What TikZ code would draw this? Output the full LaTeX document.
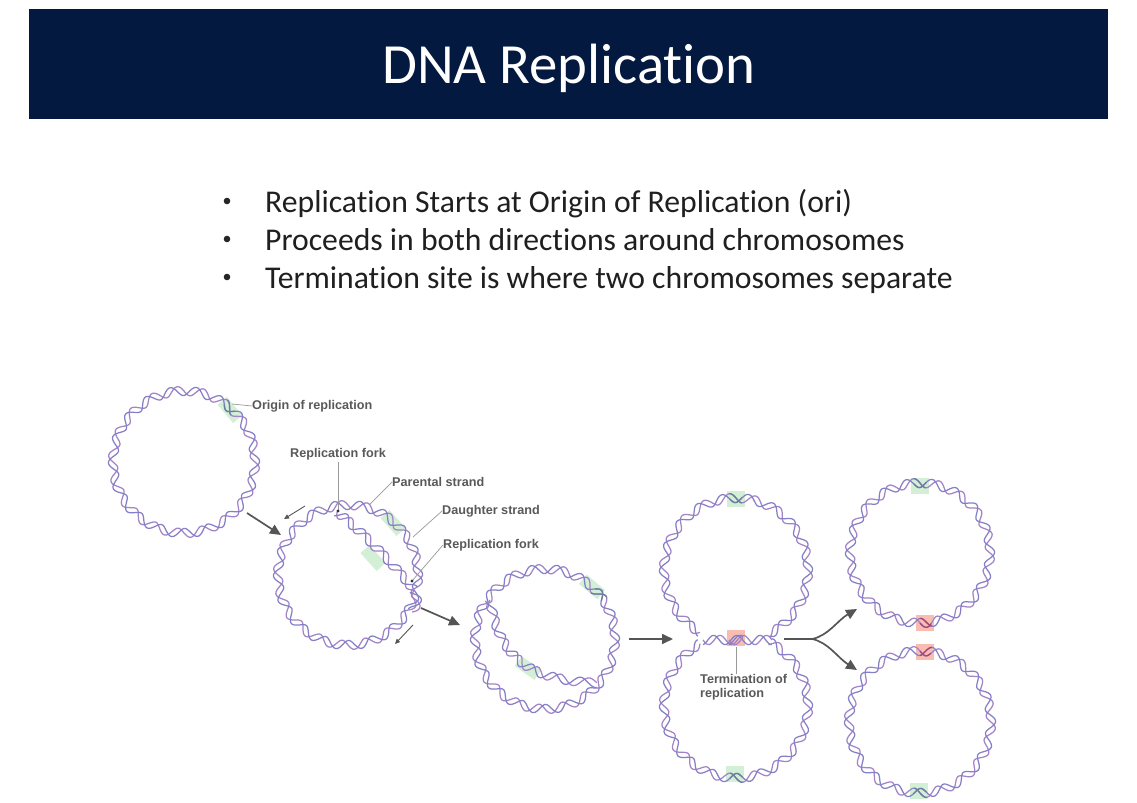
\documentclass[tikz,border=0pt]{standalone}
\usepackage{fontspec}
\setmainfont{Carlito}[Ligatures=NoCommon]
\newfontfamily\labelfont{Liberation Sans}
\usetikzlibrary{arrows.meta}
\definecolor{navy}{HTML}{03193F}
\definecolor{strandp}{HTML}{A384C6}
\definecolor{strandb}{HTML}{8480C8}
\definecolor{patchg}{HTML}{D3EFD5}
\definecolor{patchr}{HTML}{F8BDB0}
\definecolor{darkg}{HTML}{6A7F9E}
\definecolor{darkr}{HTML}{A8457A}
\definecolor{arrowgray}{HTML}{555555}
\tikzset{
  strandp/.style={draw=strandp,line width=1.25pt,line join=round},
  strandb/.style={draw=strandb,line width=1.25pt,line join=round},
  darkstrand/.style={draw=darkg,line width=1.3pt},
  redstrand/.style={draw=darkr,line width=1.3pt},
  flow/.style={draw=arrowgray,line width=1.7pt,-{Triangle[length=11bp,width=10bp]}},
  flowbare/.style={draw=arrowgray,line width=1.7pt},
  mini/.style={draw=arrowgray,line width=.9pt,-{Triangle[length=5bp,width=4.5bp]}},
  leader/.style={draw=black!40,line width=.7pt},
  tag/.style={font=\labelfont\fontsize{12.7}{14.5}\selectfont\bfseries,text=black!65,inner sep=0pt,anchor=west},
  bodytext/.style={font=\fontsize{31.8}{36}\selectfont,text=black!88,inner sep=0pt,anchor=base west},
  patch/.style={fill=patchg,draw=none},
  patchred/.style={fill=patchr,draw=none}
}
% helix on a circular arc: cx cy R a0 a1 samples style-a style-b
\newcommand{\helixarc}[8]{%
  \draw[#7] plot[smooth,samples=#6,domain=#4:#5,variable=\t]
    ({#1+(#3+4.6*sin(18*\t))*cos(\t)},{#2+(#3+4.6*sin(18*\t))*sin(\t)});
  \draw[#8] plot[smooth,samples=#6,domain=#4:#5,variable=\t]
    ({#1+(#3+4.6*sin(18*\t+100))*cos(\t)},{#2+(#3+4.6*sin(18*\t+100))*sin(\t)});
}
% helix along a cubic: x0 y0 x1 y1 x2 y2 x3 y3 turns
\newcommand{\helixbez}[9]{%
  \begin{scope}[declare function={
    bx(\t)=(1-\t)*(1-\t)*(1-\t)*#1+3*(1-\t)*(1-\t)*\t*#3+3*(1-\t)*\t*\t*#5+\t*\t*\t*#7;
    by(\t)=(1-\t)*(1-\t)*(1-\t)*#2+3*(1-\t)*(1-\t)*\t*#4+3*(1-\t)*\t*\t*#6+\t*\t*\t*#8;
    dx(\t)=3*(1-\t)*(1-\t)*(#3-#1)+6*(1-\t)*\t*(#5-#3)+3*\t*\t*(#7-#5);
    dy(\t)=3*(1-\t)*(1-\t)*(#4-#2)+6*(1-\t)*\t*(#6-#4)+3*\t*\t*(#8-#6);
    nl(\t)=veclen(dx(\t),dy(\t));
    }]
  \draw[strandp] plot[smooth,samples=120,domain=0:1,variable=\t]
    ({bx(\t)-4.6*sin(360*#9*\t)*dy(\t)/nl(\t)},{by(\t)+4.6*sin(360*#9*\t)*dx(\t)/nl(\t)});
  \draw[strandb] plot[smooth,samples=120,domain=0:1,variable=\t]
    ({bx(\t)-4.6*sin(360*#9*\t+100)*dy(\t)/nl(\t)},{by(\t)+4.6*sin(360*#9*\t+100)*dx(\t)/nl(\t)});
  \end{scope}
}
\begin{document}
\begin{tikzpicture}[x=1bp,y=-1bp]
\useasboundingbox (0,0) rectangle (1137,803);
\fill[white] (0,0) rectangle (1137,803);
% title
\fill[navy] (29,9) rectangle (1108,119);
\node[text=white,font=\fontsize{57}{62}\selectfont,inner sep=0pt,anchor=base] (title) at (569,84) {DNA Replication};
% bullets
\node[bodytext] (b1) at (265,212) {Replication Starts at Origin of Replication (ori)};
\node[bodytext] (b2) at (265,250) {Proceeds in both directions around chromosomes};
\node[bodytext] (b3) at (265,288) {Termination site is where two chromosomes separate};
\fill[black!85] (227,201) circle (3.3) (227,239) circle (3.3) (227,277) circle (3.3);
% patches
\foreach \x/\y/\a in {230/410/-50, 393/523/-48, 373/558/-48, 592/587/-40, 528/668/-35}
  \fill[patch,rotate around={\a:(\x,\y)}] (\x-12,\y-6) rectangle (\x+12,\y+6);
\foreach \x/\y in {736/499, 735/774, 920/486, 919/791}
  \fill[patch] (\x-9,\y-8) rectangle (\x+9,\y+8);
\foreach \x/\y in {736/638, 925/623, 925/652}
  \fill[patchred] (\x-9,\y-8) rectangle (\x+9,\y+8);
% ring 1
\helixarc{184}{462}{71}{0}{360}{300}{strandp}{strandb}
\helixarc{184}{462}{71}{-55}{-45}{24}{darkstrand}{darkstrand}
% ring 2
\helixarc{348}{575}{70}{-98}{265}{300}{strandp}{strandb}
\helixbez{337}{512}{360}{530}{390}{560}{414}{590}{4.5}
\helixbez{414}{590}{418}{597}{418}{604}{412}{612}{1}
% ring 3
\helixarc{545}{639}{70}{0}{360}{300}{strandp}{strandb}
\helixbez{490}{600}{500}{660}{530}{680}{597}{683}{6}
\helixarc{545}{639}{70}{-45}{-34}{24}{darkstrand}{darkstrand}
% ring 4 pair
\helixarc{736}{570}{72}{120}{423}{260}{strandp}{strandb}
\helixarc{736}{706}{72}{298}{600}{260}{strandp}{strandb}
\helixbez{703}{640}{725}{640}{750}{640}{772}{640}{3}
\helixarc{736}{570}{72}{265}{275}{24}{darkstrand}{darkstrand}
\helixarc{736}{706}{72}{85}{95}{24}{darkstrand}{darkstrand}
% ring 5 pair
\helixarc{920}{553}{70}{0}{360}{300}{strandp}{strandb}
\helixarc{920}{722}{71}{0}{360}{300}{strandp}{strandb}
\helixarc{920}{553}{70}{265}{275}{24}{darkstrand}{darkstrand}
\helixarc{920}{722}{71}{85}{95}{24}{darkstrand}{darkstrand}
\helixarc{920}{553}{70}{81}{90}{20}{redstrand}{redstrand}
\helixarc{920}{722}{71}{270}{279}{20}{redstrand}{redstrand}
\helixbez{729}{640}{733}{640}{739}{640}{743}{640}{0.6}
% flow arrows
\coordinate (a1s) at (247,513); \coordinate (a1e) at (281,535);
\coordinate (a2s) at (421,608); \coordinate (a2e) at (460,625);
\coordinate (a3s) at (629,639); \coordinate (a3e) at (673,639);
\coordinate (s0) at (784,639); \coordinate (split) at (812,639);
\coordinate (upe) at (857,609); \coordinate (lowe) at (857,670);
\draw[flow] (a1s) -- (a1e);
\draw[flow] (a2s) -- (a2e);
\draw[flow] (a3s) -- (a3e);
\draw[flowbare] (s0) -- (split);
\draw[flow] (split) .. controls (828,636) and (838,620) .. (upe);
\draw[flow] (split) .. controls (828,642) and (838,658) .. (lowe);
\coordinate (m1s) at (305,506); \coordinate (m1e) at (284,519);
\coordinate (m2s) at (413,625); \coordinate (m2e) at (395,644);
\draw[mini] (m1s) -- (m1e);
\draw[mini] (m2s) -- (m2e);
% labels
\node[tag] (lorig) at (252,406) {Origin of replication};
\node[tag] (lfork) at (290,454) {Replication fork};
\node[tag] (lpar) at (392,482) {Parental strand};
\node[tag] (ldau) at (442,511) {Daughter strand};
\node[tag] (lfk2) at (443,545) {Replication fork};
\node[tag,align=left,anchor=north west] (lterm) at (700,674) {Termination of\\replication};
\coordinate (torig) at (232,404);
\coordinate (tfork) at (338,511);
\coordinate (tpar) at (370,504);
\coordinate (tdau) at (413,537);
\coordinate (tfk2) at (412,581);
\coordinate (tterm) at (736,647);
\draw[leader] (lorig.west) -- (torig);
\draw[leader] ([yshift=-2bp]lfork.south -| tfork) -- (tfork);
\draw[leader] (lpar.west) -- (tpar);
\draw[leader] (ldau.west) -- (tdau);
\draw[leader] (lfk2.west) -- (tfk2);
\draw[leader] (tterm) -- (lterm.north -| tterm);
\fill[black!80] (tfork) circle (1.6) (tfk2) circle (1.6);
\end{tikzpicture}
\end{document}
